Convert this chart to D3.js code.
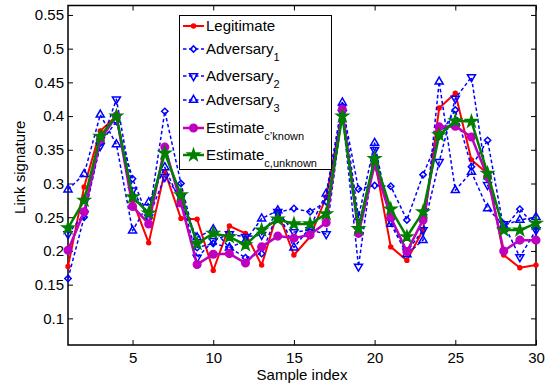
<!DOCTYPE html>
<html>
<head>
<meta charset="utf-8">
<script src="https://cdn.jsdelivr.net/npm/d3@7"></script>
<style>
  body { margin: 0; background: #fff; }
  text { font-family: "Liberation Sans", Arial, Helvetica, sans-serif; }
</style>
</head>
<body>
<svg id="chart"></svg>
<script>
// sample index 1..30
var samples = d3.range(1, 31);

var legitimate = [0.177, 0.295, 0.378, 0.400, 0.275, 0.212, 0.318, 0.248, 0.247, 0.171,
                  0.237, 0.226, 0.179, 0.258, 0.194, 0.221, 0.280, 0.405, 0.235, 0.335,
                  0.206, 0.186, 0.231, 0.412, 0.434, 0.335, 0.315, 0.194, 0.175, 0.179];
var adversary1 = [0.159, 0.250, 0.360, 0.392, 0.307, 0.248, 0.407, 0.300, 0.205, 0.211,
                  0.205, 0.190, 0.196, 0.257, 0.263, 0.258, 0.273, 0.415, 0.292, 0.297,
                  0.296, 0.246, 0.313, 0.370, 0.409, 0.325, 0.364, 0.233, 0.262, 0.235];
var adversary2 = [0.225, 0.255, 0.356, 0.425, 0.290, 0.250, 0.310, 0.280, 0.190, 0.215,
                  0.225, 0.221, 0.224, 0.258, 0.228, 0.231, 0.225, 0.405, 0.177, 0.350,
                  0.245, 0.199, 0.231, 0.332, 0.426, 0.458, 0.298, 0.240, 0.191, 0.231];
var adversary3 = [0.291, 0.314, 0.402, 0.358, 0.230, 0.272, 0.324, 0.270, 0.220, 0.232,
                  0.205, 0.215, 0.248, 0.260, 0.205, 0.235, 0.285, 0.420, 0.250, 0.360,
                  0.240, 0.195, 0.216, 0.451, 0.290, 0.317, 0.263, 0.238, 0.246, 0.250];
var estKnown   = [0.201, 0.258, 0.365, 0.400, 0.266, 0.240, 0.354, 0.271, 0.180, 0.195,
                  0.196, 0.182, 0.206, 0.222, 0.219, 0.224, 0.242, 0.410, 0.226, 0.328,
                  0.250, 0.199, 0.246, 0.384, 0.385, 0.369, 0.310, 0.200, 0.216, 0.216];
var estUnknown = [0.234, 0.275, 0.370, 0.400, 0.280, 0.256, 0.345, 0.283, 0.211, 0.226,
                  0.221, 0.209, 0.231, 0.247, 0.240, 0.240, 0.255, 0.400, 0.233, 0.337,
                  0.262, 0.221, 0.258, 0.372, 0.393, 0.392, 0.315, 0.231, 0.231, 0.241];

var xTicks = [5, 10, 15, 20, 25, 30];
var yTicks = [0.1, 0.15, 0.2, 0.25, 0.3, 0.35, 0.4, 0.45, 0.5, 0.55];

var width = 554, height = 386;
var plot = {left: 68, right: 536, top: 5.5, bottom: 345};

var svg = d3.select('#chart')
    .attr('width', width)
    .attr('height', height);

var xScale = d3.scaleLinear().domain([1, 30]).range([plot.left, plot.right]);
var yScale = d3.scaleLinear().domain([0.0605, 0.564]).range([plot.bottom, plot.top]);

// axes: matlab style, ticks pointing inward on all four sides
var tickLen = 5;
var gx = svg.append('g')
    .attr('transform', 'translate(0,' + plot.bottom + ')')
    .call(d3.axisBottom(xScale).tickValues(xTicks).tickSizeInner(-tickLen).tickSizeOuter(0).tickPadding(7));
var gxTop = svg.append('g')
    .attr('transform', 'translate(0,' + plot.top + ')')
    .call(d3.axisTop(xScale).tickValues(xTicks).tickSizeInner(-tickLen).tickSizeOuter(0).tickFormat(''));
var gy = svg.append('g')
    .attr('transform', 'translate(' + plot.left + ',0)')
    .call(d3.axisLeft(yScale).tickValues(yTicks).tickSizeInner(-tickLen).tickSizeOuter(0).tickPadding(4)
        .tickFormat(function(d) { return String(+d.toFixed(2)); }));
var gyRight = svg.append('g')
    .attr('transform', 'translate(' + plot.right + ',0)')
    .call(d3.axisRight(yScale).tickValues(yTicks).tickSizeInner(-tickLen).tickSizeOuter(0).tickFormat(''));

svg.selectAll('.domain').remove();
svg.selectAll('.tick line').attr('stroke', '#000').attr('stroke-width', 1);
svg.selectAll('.tick text').style('font-size', '15px').attr('fill', '#000');

// axes box
svg.append('rect')
    .attr('x', plot.left)
    .attr('y', plot.top)
    .attr('width', plot.right - plot.left)
    .attr('height', plot.bottom - plot.top)
    .attr('fill', 'none')
    .attr('stroke', '#000')
    .attr('stroke-width', 1.5);

// axis labels
svg.append('text')
    .attr('x', (plot.left + plot.right) / 2)
    .attr('y', 380)
    .attr('text-anchor', 'middle')
    .style('font-size', '15px')
    .text('Sample index');

svg.append('text')
    .attr('transform', 'translate(25,' + ((plot.top + plot.bottom) / 2 - 8) + ') rotate(-90)')
    .attr('text-anchor', 'middle')
    .style('font-size', '15px')
    .text('Link signature');

var series = [
    {name: 'Legitimate', sub: '', values: legitimate, color: '#ff0000', width: 2, dash: null,
     symbol: d3.symbolCircle, size: 12, fill: '#ff0000'},
    {name: 'Adversary', sub: '1', values: adversary1, color: '#0000ff', width: 1.5, dash: '3.5,2.5',
     symbol: 'diamond', size: 20, fill: 'none'},
    {name: 'Adversary', sub: '2', values: adversary2, color: '#0000ff', width: 1.5, dash: '3.5,2.5',
     symbol: 'down', size: 28, fill: 'none'},
    {name: 'Adversary', sub: '3', values: adversary3, color: '#0000ff', width: 1.5, dash: '3.5,2.5',
     symbol: d3.symbolTriangle, size: 28, fill: 'none'},
    {name: 'Estimate', sub: 'c\u2019known', values: estKnown, color: '#bf00bf', width: 2.5, dash: null,
     symbol: d3.symbolCircle, size: 45, fill: '#bf00bf'},
    {name: 'Estimate', sub: 'c,unknown', values: estUnknown, color: '#007f00', width: 2.5, dash: null,
     symbol: d3.symbolStar, size: 42, fill: '#007f00'}
];

function symbolPath(s) {
    if (s.symbol === 'down') return d3.symbol().type(d3.symbolTriangle).size(s.size)();
    if (s.symbol === 'diamond') return d3.symbol().type(d3.symbolSquare).size(s.size)();
    return d3.symbol().type(s.symbol).size(s.size)();
}

function symbolRotate(s) {
    if (s.symbol === 'down') return ' rotate(180)';
    if (s.symbol === 'diamond') return ' rotate(45)';
    return '';
}

var line = d3.line()
    .x(function(d) { return xScale(d.x); })
    .y(function(d) { return yScale(d.y); });

series.forEach(function(s) {
    var pts = samples.map(function(x, i) { return {x: x, y: s.values[i]}; });
    var g = svg.append('g');
    g.append('path')
        .datum(pts)
        .attr('d', line)
        .attr('fill', 'none')
        .attr('stroke', s.color)
        .attr('stroke-width', s.width)
        .attr('stroke-dasharray', s.dash)
        .attr('stroke-linejoin', 'round');
    g.selectAll('.mark')
        .data(pts)
        .enter()
        .append('path')
        .attr('d', symbolPath(s))
        .attr('transform', function(d) {
            return 'translate(' + xScale(d.x) + ',' + yScale(d.y) + ')' + symbolRotate(s);
        })
        .attr('fill', s.fill)
        .attr('stroke', s.color)
        .attr('stroke-width', 1.5);
});

// legend
var legend = svg.append('g');
legend.append('rect')
    .attr('x', 179.5)
    .attr('y', 15.5)
    .attr('width', 152)
    .attr('height', 154)
    .attr('fill', '#fff')
    .attr('stroke', '#000')
    .attr('stroke-width', 1);

var legendY = [26, 49, 76, 100, 128, 155];
series.forEach(function(s, i) {
    var y = legendY[i];
    legend.append('line')
        .attr('x1', 183).attr('x2', 204)
        .attr('y1', y).attr('y2', y)
        .attr('stroke', s.color)
        .attr('stroke-width', s.width)
        .attr('stroke-dasharray', s.dash);
    legend.append('path')
        .attr('d', symbolPath(s))
        .attr('transform', 'translate(193.5,' + y + ')' + symbolRotate(s))
        .attr('fill', s.fill)
        .attr('stroke', s.color)
        .attr('stroke-width', 1.5);
    var t = legend.append('text')
        .attr('x', 206)
        .attr('y', y + 5)
        .style('font-size', '15px')
        .text(s.name);
    if (s.sub) {
        t.append('tspan')
            .attr('dy', 7)
            .style('font-size', '11px')
            .text(s.sub);
    }
});
</script>
</body>
</html>
